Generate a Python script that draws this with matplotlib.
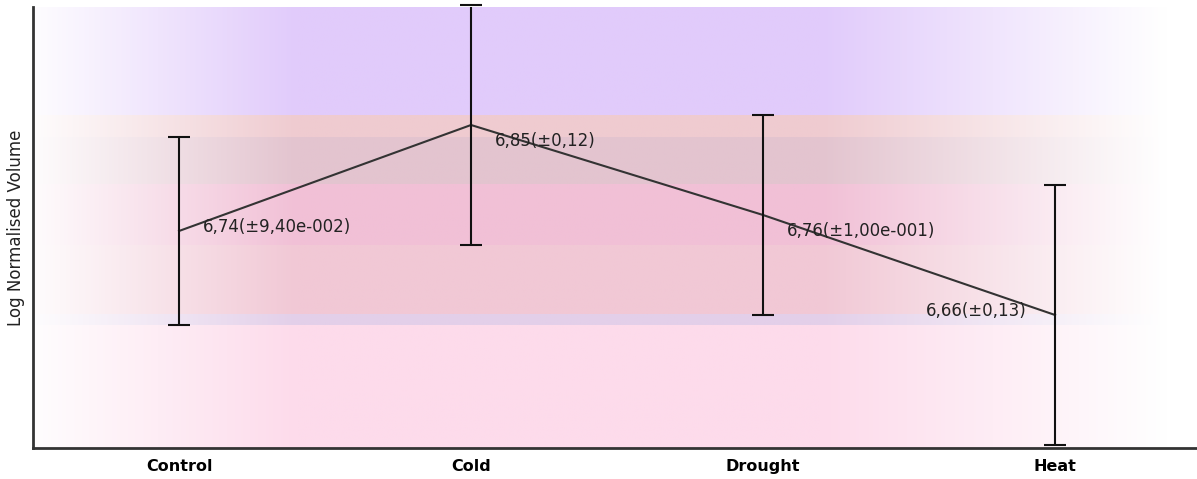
import numpy as np
import matplotlib
matplotlib.use("Agg")
import matplotlib.pyplot as plt

# datos
conditions = ['Control', 'Cold', 'Drought', 'Heat']
means = [6.744, 6.85, 6.76, 6.66]
errors = [0.094, 0.12, 0.10, 0.13]
point_labels = ['6,74(±9,40e-002)', '6,85(±0,12)', '6,76(±1,00e-001)', '6,66(±0,13)']

# colores de las bandas de fondo (de arriba hacia abajo)
band_colors = ['#e1cbfb', '#efcbd0', '#e3c4cf', '#f1c0d6', '#f1c8d5', '#e3cfe9', '#fddbeb']

fig = plt.figure(figsize=(11.97, 4.79), dpi=100)
ax = fig.add_axes([33 / 1197, 31 / 479, 1164 / 1197, 441 / 479])

x = np.arange(len(conditions))
xmin, xmax = -0.5, 3.486
ymin, ymax = 6.527, 6.968

# bordes de bandas a partir de los extremos de las barras de error
edges = sorted(set([m + e for m, e in zip(means, errors)] + [m - e for m, e in zip(means, errors)]))
edges = edges[::-1]
edges[0] = max(edges[0], ymax)
edges[-1] = min(edges[-1], ymin)

# degradado horizontal (blanco en los extremos)
xs = np.linspace(xmin, xmax, 600)
alpha = np.interp(xs, [-0.5, 0.4, 2.2, 3.38, 3.5], [0.05, 1, 1, 0, 0])
for i, col in enumerate(band_colors):
    hi, lo = edges[i], edges[i + 1]
    rgb = np.array(matplotlib.colors.to_rgb(col))
    img = 1 - alpha[:, None] * (1 - rgb[None, :])
    ax.imshow(img[None, :, :], extent=(xmin, xmax, lo, hi), aspect='auto', zorder=0)

# linea y barras de error
ax.plot(x, means, color='#333333', lw=1.5, zorder=3)
eb = ax.errorbar(x, means, yerr=errors, fmt='none', ecolor='#111111', elinewidth=1.5,
                 capsize=8, capthick=1.5, zorder=4)
for artist in eb.lines[1]:
    artist.set_clip_on(False)

# etiquetas de los puntos
offsets = [(24, 4, 'left'), (24, -16, 'left'), (24, -16, 'left'), (-28, 4, 'right')]
for xi, m, lab, (dx, dy, ha) in zip(x, means, point_labels, offsets):
    ax.annotate(lab, (xi, m), xytext=(dx, dy), textcoords='offset pixels',
                ha=ha, va='center', fontsize=12, color='#222222', zorder=5)

ax.set_xlim(xmin, xmax)
ax.set_ylim(ymin, ymax)
ax.set_xticks(x)
ax.set_xticklabels(conditions, fontweight='bold', fontsize=11.5)
ax.tick_params(axis='x', length=0, pad=8)
ax.set_yticks([])
ax.set_ylabel('Log Normalised Volume', fontsize=12, color='#222222', labelpad=6)

for s in ['top', 'right']:
    ax.spines[s].set_visible(False)
for s in ['left', 'bottom']:
    ax.spines[s].set_color('#333333')
    ax.spines[s].set_linewidth(2)

fig.savefig('out.png', dpi=100)
